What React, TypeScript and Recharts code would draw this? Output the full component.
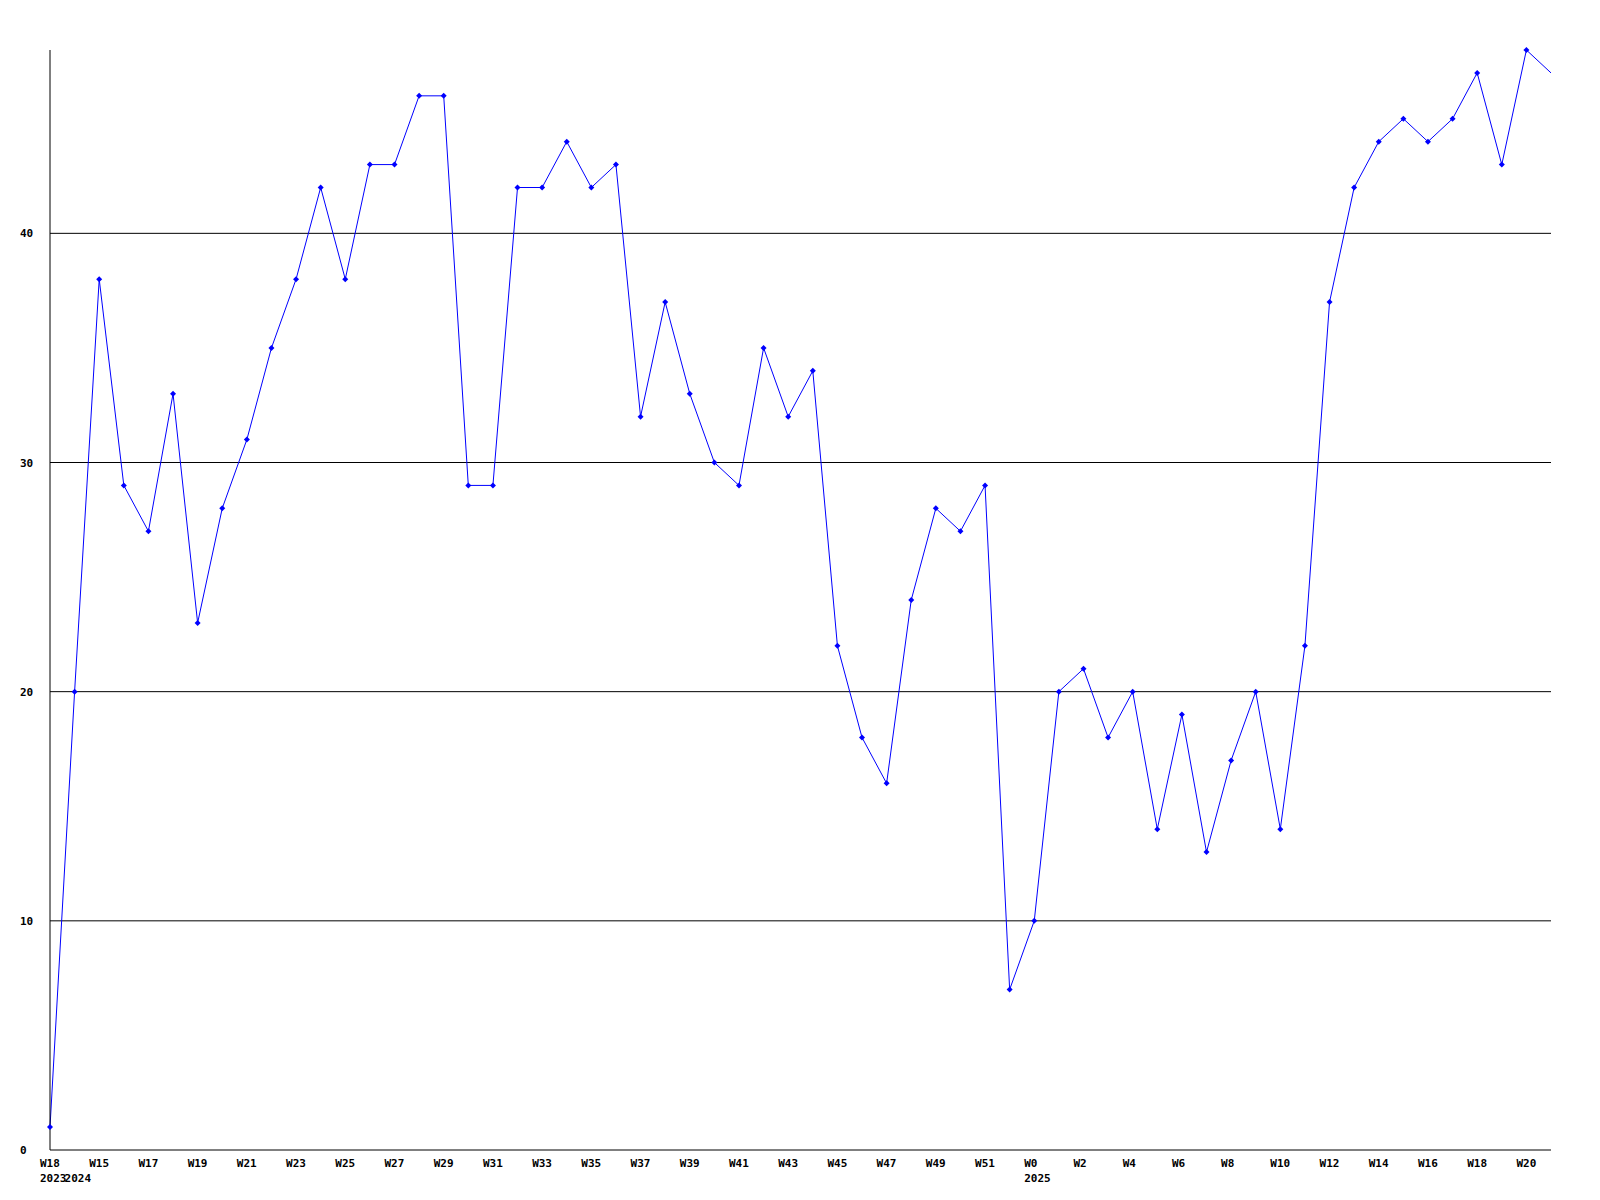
import { LineChart, Line, XAxis, YAxis, ReferenceLine } from 'recharts';

const weeks = [
  'W18',
  'W14', 'W15', 'W16', 'W17', 'W18', 'W19', 'W20', 'W21', 'W22', 'W23', 'W24', 'W25', 'W26',
  'W27', 'W28', 'W29', 'W30', 'W31', 'W32', 'W33', 'W34', 'W35', 'W36', 'W37', 'W38', 'W39',
  'W40', 'W41', 'W42', 'W43', 'W44', 'W45', 'W46', 'W47', 'W48', 'W49', 'W50', 'W51', 'W52',
  'W0', 'W1', 'W2', 'W3', 'W4', 'W5', 'W6', 'W7', 'W8', 'W9', 'W10', 'W11', 'W12', 'W13',
  'W14', 'W15', 'W16', 'W17', 'W18', 'W19', 'W20', 'W21',
];

// year label shown under the first week of each year
const years: Record<number, string> = { 0: '2023', 1: '2024', 40: '2025' };

const values = [
  1,
  20, 38, 29, 27, 33, 23, 28, 31, 35, 38, 42, 38, 43,
  43, 46, 46, 29, 29, 42, 42, 44, 42, 43, 32, 37, 33,
  30, 29, 35, 32, 34, 22, 18, 16, 24, 28, 27, 29, 7,
  10, 20, 21, 18, 20, 14, 19, 13, 17, 20, 14, 22, 37, 42,
  44, 45, 44, 45, 47, 43, 48, 47,
];

const yTicks = [0, 10, 20, 30, 40];
const gridLines = [10, 20, 30, 40];

const data = weeks.map((w, i) => ({ idx: i, week: w, value: values[i] }));

const FONT = '"DejaVu Sans Mono", monospace';

function WeekTick(props: any) {
  const { x, y, payload } = props;
  const i = payload.value as number;
  return (
    <g>
      {i % 2 === 0 && (
        <text x={x - 10} y={y + 9} fontFamily={FONT} fontWeight="bold" fontSize={11} fill="#000">
          {weeks[i]}
        </text>
      )}
      {years[i] && (
        <text x={x - 10} y={y + 24} fontFamily={FONT} fontWeight="bold" fontSize={11} fill="#000">
          {years[i]}
        </text>
      )}
    </g>
  );
}

function ValueTick(props: any) {
  const { y, payload } = props;
  return (
    <text x={20} y={y + 4} fontFamily={FONT} fontWeight="bold" fontSize={11} fill="#000">
      {payload.value}
    </text>
  );
}

function Marker(props: any) {
  const { cx, cy, index } = props;
  if (index === values.length - 1) return <g key={index} />;
  return (
    <path
      key={index}
      d={`M${cx - 3},${cy} L${cx},${cy - 3} L${cx + 3},${cy} L${cx},${cy + 3} Z`}
      fill="#0000ff"
      stroke="none"
    />
  );
}

export default function App() {
  return (
    <div style={{ position: 'absolute', left: 0, top: 0, width: 1600, height: 1200, background: '#fff' }}>
      <LineChart width={1600} height={1200} data={data} margin={{ top: 50, right: 49, left: 0, bottom: 0 }}>
        {gridLines.map((g) => (
          <ReferenceLine key={g} y={g} stroke="#000" strokeWidth={1} />
        ))}
        <XAxis
          dataKey="idx"
          type="category"
          interval={0}
          height={50}
          stroke="#000"
          tickLine={false}
          tick={<WeekTick />}
        />
        <YAxis
          domain={[0, 48]}
          ticks={yTicks}
          width={50}
          stroke="#000"
          tickLine={false}
          tick={<ValueTick />}
        />
        <Line
          dataKey="value"
          stroke="#0000ff"
          strokeWidth={1}
          dot={<Marker />}
          activeDot={false}
          isAnimationActive={false}
        />
      </LineChart>
    </div>
  );
}
